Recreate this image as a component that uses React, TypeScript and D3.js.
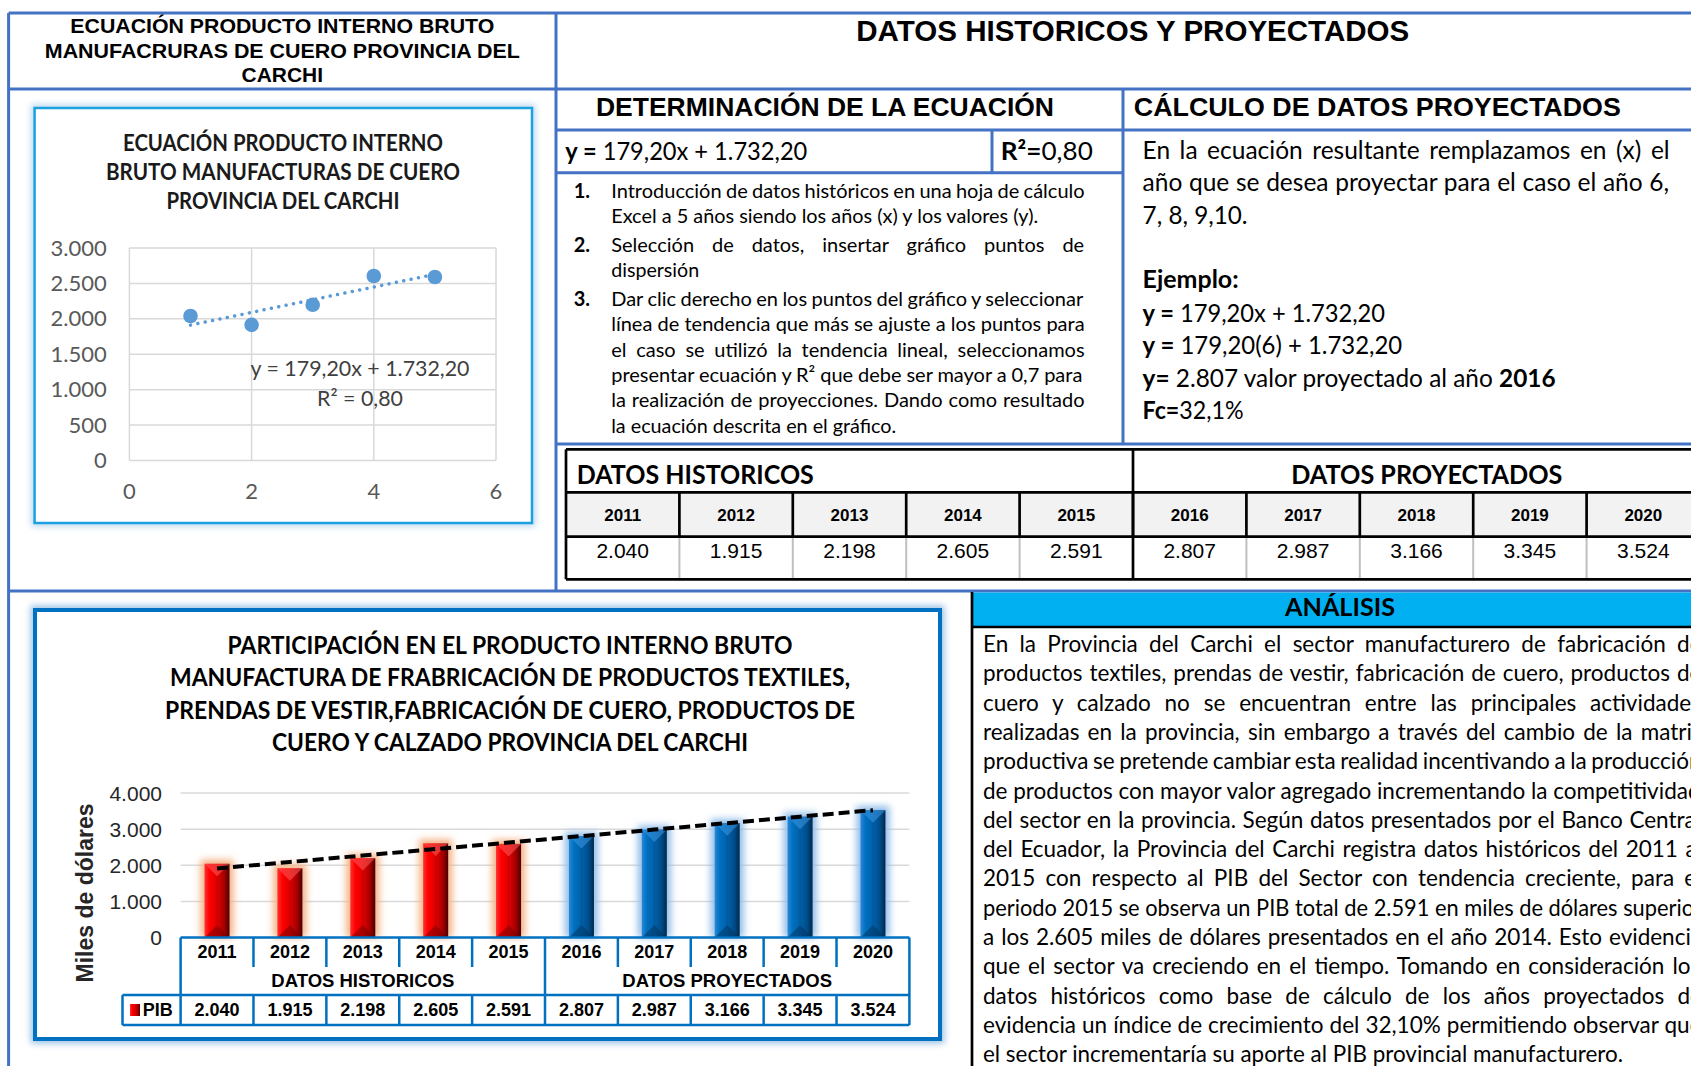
import React from "react";
import * as d3 from "d3";

// ---------------- DATA ----------------
const histYears = ["2011", "2012", "2013", "2014", "2015"];
const histValues = [2040, 1915, 2198, 2605, 2591];
const projYears = ["2016", "2017", "2018", "2019", "2020"];
const projValues = [2807, 2987, 3166, 3345, 3524];
const scatterX = [1, 2, 3, 4, 5];
const trendSlope = 179.2;
const trendIntercept = 1732.2;
const rSquared = 0.8;
const growthPct = 32.1;
const scatterYTicks = [0, 500, 1000, 1500, 2000, 2500, 3000];
const scatterXTicks = [0, 2, 4, 6];
const barYTicks = [0, 1000, 2000, 3000, 4000];
const groupLabels = ["DATOS HISTORICOS", "DATOS PROYECTADOS"];
const seriesName = "PIB";
const yAxisTitle = "Miles de dólares";

const leftTitle = ["ECUACIÓN PRODUCTO INTERNO BRUTO", "MANUFACRURAS DE CUERO PROVINCIA DEL", "CARCHI"];
const rightTitle = "DATOS HISTORICOS Y PROYECTADOS";
const eqHeading = "DETERMINACIÓN DE LA ECUACIÓN";
const calcHeading = "CÁLCULO DE DATOS PROYECTADOS";
const scatterTitle = ["ECUACIÓN PRODUCTO INTERNO", "BRUTO MANUFACTURAS DE CUERO", "PROVINCIA DEL CARCHI"];
const barTitle = [
  "PARTICIPACIÓN EN EL PRODUCTO INTERNO BRUTO",
  "MANUFACTURA DE FRABRICACIÓN DE PRODUCTOS TEXTILES,",
  "PRENDAS DE VESTIR,FABRICACIÓN DE CUERO, PRODUCTOS DE",
  "CUERO Y CALZADO PROVINCIA DEL CARCHI",
];
const stepNumbers = ["1.", "2.", "3."];
const stepLines = [
  "Introducción de datos históricos en una hoja de cálculo",
  "Excel a 5 años siendo los años (x) y los valores (y).",
  "Selección de datos, insertar gráfico puntos de",
  "dispersión",
  "Dar clic derecho en los puntos del gráfico y seleccionar",
  "línea de tendencia que más se ajuste a los puntos para",
  "el caso se utilizó la tendencia lineal, seleccionamos",
  "presentar ecuación y R² que debe ser mayor a 0,7 para",
  "la realización de proyecciones. Dando como resultado",
  "la ecuación descrita en el gráfico.",
];
const calcIntro = [
  "En la ecuación resultante remplazamos en (x) el",
  "año que se desea proyectar para el caso el año 6,",
  "7, 8, 9,10.",
];
const analysisTitle = "ANÁLISIS";
const analysisLines = [
  "En la Provincia del Carchi el sector manufacturero de fabricación de",
  "productos textiles, prendas de vestir, fabricación de cuero, productos de",
  "cuero y calzado no se encuentran entre las principales actividades",
  "realizadas en la provincia, sin embargo a través del cambio de la matriz",
  "productiva se pretende cambiar esta realidad incentivando a la producción",
  "de productos con mayor valor agregado incrementando la competitividad",
  "del sector en la provincia. Según datos presentados por el Banco Central",
  "del Ecuador, la Provincia del Carchi registra datos históricos del 2011 al",
  "2015 con respecto al PIB del Sector con tendencia creciente, para el",
  "periodo 2015 se observa un PIB total de 2.591 en miles de dólares superior",
  "a los 2.605 miles de dólares presentados en el año 2014. Esto evidencia",
  "que el sector va creciendo en el tiempo. Tomando en consideración los",
  "datos históricos como base de cálculo de los años proyectados de",
  "evidencia un índice de crecimiento del 32,10% permitiendo observar que",
  "el sector incrementaría su aporte al PIB provincial manufacturero.",
];

// ---------------- helpers ----------------
const es = d3.formatLocale({ decimal: ",", thousands: ".", grouping: [3], currency: ["", ""] });
const fmtInt = es.format(",.0f");
const fmt2 = es.format(",.2f");
const fmtR = es.format(".2f");
const fmt1 = es.format(".1f");

const CAL = "Lato, 'Open Sans', sans-serif";
const ARI = "'Liberation Sans', Arial, sans-serif";
const BLUE = "#4472C4";

let _ctx: CanvasRenderingContext2D | null = null;
function tw(s: string, size: number, family: string, weight: number) {
  if (!_ctx) _ctx = document.createElement("canvas").getContext("2d");
  if (!_ctx) return s.length * size * 0.5;
  _ctx.font = `${weight} ${size}px ${family}`;
  return _ctx.measureText(s).width;
}

type Run = { t: string; b?: boolean };

function Line(props: {
  x: number; y: number; runs: Run[]; size: number; family: string;
  W?: number; justify?: boolean; anchor?: string; fill?: string; weight?: number;
}) {
  const { x, y, runs, size, family, W, justify, anchor = "start", fill = "#000", weight = 400 } = props;
  const extra: any = {};
  if (W) {
    if (justify) {
      const natural = runs.reduce((s, r) => s + tw(r.t, size, family, r.b ? 700 : weight), 0);
      const full = runs.map((r) => r.t).join("");
      const spaces = (full.match(/ /g) || []).length;
      const ws = (W - natural) / Math.max(spaces, 1);
      if (ws >= -1.2) extra.style = { wordSpacing: `${ws}px` };
      else { extra.textLength = W; extra.lengthAdjust = "spacingAndGlyphs"; }
    } else {
      extra.textLength = W;
      extra.lengthAdjust = "spacingAndGlyphs";
    }
  }
  return (
    <text x={x} y={y} fontSize={size} fontFamily={family} textAnchor={anchor} fill={fill} fontWeight={weight} {...extra}>
      {runs.map((r, i) => (
        <tspan key={i} fontWeight={r.b ? 700 : weight}>{r.t}</tspan>
      ))}
    </text>
  );
}

function Bar({ x, y, w, h, kind }: { x: number; y: number; w: number; h: number; kind: "red" | "blue" }) {
  const b = Math.min(w * 0.5, h / 2);
  const glow = kind === "red" ? "#F4B183" : "#8FBCE8";
  return (
    <g>
      <rect x={x - 4} y={y - 4} width={w + 8} height={h + 4} fill={glow} filter="url(#barGlow)" />
      <rect x={x} y={y} width={w} height={h} fill={`url(#grad-${kind})`} />
      <polygon points={`${x},${y} ${x + w},${y} ${x + w / 2},${y + b}`} fill={kind === "red" ? "#FF5A5A" : "#3D95E0"} opacity={0.55} />
      <polygon points={`${x},${y + h} ${x + w},${y + h} ${x + w / 2},${y + h - b}`} fill={kind === "red" ? "#700000" : "#00325C"} opacity={0.5} />
      <line x1={x + w / 2} y1={y + b} x2={x + w / 2} y2={y + h - b} stroke={kind === "red" ? "#B00000" : "#004E8A"} strokeWidth={1} opacity={0.6} />
    </g>
  );
}

export default function App() {
  const allYears = [...histYears, ...projYears];
  const allValues = [...histValues, ...projValues];

  // scatter scales
  const sx = d3.scaleLinear().domain([0, 6]).range([129.4, 496]);
  const sy = d3.scaleLinear().domain([0, 3000]).range([460.5, 248]);
  const scatterTrend = d3.line<number>().x((d) => sx(d)).y((d) => sy(trendSlope * d + trendIntercept));

  // bar chart scales
  const bx = d3.scaleBand<string>().domain(allYears).range([180.6, 909.4]);
  const by = d3.scaleLinear().domain([0, 4000]).range([937.5, 793]);
  const barW = 25;
  const bcx = (yr: string) => (bx(yr) as number) + bx.step() / 2;
  const barTrend = d3.line<string>().x((d) => bcx(d)).y((d, i) => by(trendSlope * (i + 1) + trendIntercept));

  // top data table scale
  const tx = d3.scaleBand<string>().domain(allYears).range([566, 1700]);
  const tcx = (yr: string) => (tx(yr) as number) + tx.step() / 2;

  const eqText = `${fmt2(trendSlope)}x + ${fmt2(trendIntercept)}`;
  const projFirst = projValues[0];

  const stepBase = [198, 223.3, 252, 277.3, 306, 331.3, 356.6, 381.9, 407.2, 432.5];
  const stepJust = [true, false, true, false, true, true, true, true, true, false];
  const stepW = [473.4, 427, 473.4, 88, 473.4, 473.4, 473.4, 473.4, 473.4, 285];
  const stepNumIdx = [0, 2, 4];

  const tableTop = 449.3, tableHdr = 492.3, tableYr = 536.7, tableBot = 579.3;
  const catTop = 937.5, catMid = 967, grpBot = 995, dataBot = 1025, legL = 122.5;
  const boundaries = allYears.map((y) => bx(y) as number).concat([909.4]);

  return (
    <div style={{ position: "absolute", left: 0, top: 0 }}>
      <style>{"body{margin:0;overflow:hidden}"}</style>
      <svg width={1691} height={1066} style={{ display: "block", background: "#fff" }}>
        <defs>
          <linearGradient id="grad-red" x1="0" x2="1" y1="0" y2="0">
            <stop offset="0" stopColor="#FF3030" />
            <stop offset="0.2" stopColor="#FF0000" />
            <stop offset="0.55" stopColor="#D80000" />
            <stop offset="0.8" stopColor="#A00000" />
            <stop offset="1" stopColor="#4A0000" />
          </linearGradient>
          <linearGradient id="grad-blue" x1="0" x2="1" y1="0" y2="0">
            <stop offset="0" stopColor="#2A88D8" />
            <stop offset="0.2" stopColor="#0070C0" />
            <stop offset="0.55" stopColor="#005EA6" />
            <stop offset="0.8" stopColor="#004A86" />
            <stop offset="1" stopColor="#00284A" />
          </linearGradient>
          <filter id="barGlow" x="-60%" y="-20%" width="220%" height="140%">
            <feGaussianBlur stdDeviation="3.5" />
          </filter>
          <filter id="boxGlow" x="-5%" y="-5%" width="110%" height="110%">
            <feGaussianBlur stdDeviation="3" />
          </filter>
        </defs>

        {/* ---------- frame lines ---------- */}
        <g stroke={BLUE} strokeWidth={3} fill="none">
          <line x1={8.6} y1={13} x2={1691} y2={13} />
          <line x1={8.6} y1={13} x2={8.6} y2={1066} />
          <line x1={8.6} y1={89} x2={1691} y2={89} />
          <line x1={556} y1={13} x2={556} y2={591} />
          <line x1={556} y1={130} x2={1691} y2={130} />
          <line x1={1123} y1={89} x2={1123} y2={444} />
          <line x1={556} y1={172.7} x2={1123} y2={172.7} />
          <line x1={992} y1={130} x2={992} y2={172.7} />
          <line x1={556} y1={444} x2={1691} y2={444} />
          <line x1={8.6} y1={591} x2={1691} y2={591} />
        </g>

        {/* ---------- titles ---------- */}
        {leftTitle.map((t, i) => (
          <Line key={t} x={282.3} y={[32.5, 57.5, 82][i]} runs={[{ t }]} size={21} family={ARI} weight={700} anchor="middle" W={[424, 475, 81.4][i]} />
        ))}
        <Line x={1132.8} y={41} runs={[{ t: rightTitle }]} size={29} family={ARI} weight={700} anchor="middle" W={553} />
        <Line x={825} y={115.5} runs={[{ t: eqHeading }]} size={26} family={ARI} weight={700} anchor="middle" W={458} />
        <Line x={1133.8} y={115.5} runs={[{ t: calcHeading }]} size={26.5} family={ARI} weight={700} W={487} />

        {/* ---------- equation row ---------- */}
        <Line x={565.3} y={160} runs={[{ t: "y =", b: true }, { t: " " + eqText }]} size={24.5} family={CAL} W={242} />
        <Line x={1000.8} y={160} runs={[{ t: "R²=", b: true }, { t: fmtR(rSquared) }]} size={24.5} family={CAL} W={92} />

        {/* ---------- steps ---------- */}
        {stepNumIdx.map((li, k) => (
          <Line key={k} x={573.7} y={stepBase[li]} runs={[{ t: stepNumbers[k], b: true }]} size={20} family={CAL} />
        ))}
        {stepLines.map((t, i) => (
          <Line key={i} x={611.2} y={stepBase[i]} runs={[{ t }]} size={20} family={CAL} W={stepW[i]} justify={stepJust[i]} />
        ))}

        {/* ---------- calc panel ---------- */}
        <Line x={1142.6} y={159} runs={[{ t: calcIntro[0] }]} size={24.5} family={CAL} W={527} justify />
        <Line x={1142.6} y={191.3} runs={[{ t: calcIntro[1] }]} size={24.5} family={CAL} W={527} justify />
        <Line x={1142.6} y={223.6} runs={[{ t: calcIntro[2] }]} size={24.5} family={CAL} W={105} />
        <Line x={1142.6} y={288} runs={[{ t: "Ejemplo:", b: true }]} size={24.5} family={CAL} W={96} />
        <Line x={1142.6} y={321.5} runs={[{ t: "y =", b: true }, { t: " " + eqText }]} size={24.5} family={CAL} W={242.5} />
        <Line x={1142.6} y={354} runs={[{ t: "y =", b: true }, { t: ` ${fmt2(trendSlope)}(6) + ${fmt2(trendIntercept)}` }]} size={24.5} family={CAL} W={259.6} />
        <Line x={1142.6} y={386.5} runs={[{ t: "y=", b: true }, { t: ` ${fmtInt(projFirst)} valor proyectado al año ` }, { t: projYears[0], b: true }]} size={24.5} family={CAL} W={413} />
        <Line x={1142.6} y={419} runs={[{ t: "Fc=", b: true }, { t: `${fmt1(growthPct)}%` }]} size={24.5} family={CAL} W={101} />

        {/* ---------- data table ---------- */}
        <rect x={566} y={tableHdr} width={1691 - 566} height={tableYr - tableHdr} fill="#F2F2F2" />
        <Line x={576.8} y={484} runs={[{ t: groupLabels[0] }]} size={27} family={CAL} weight={700} W={237} />
        <Line x={1426.8} y={484} runs={[{ t: groupLabels[1] }]} size={27} family={CAL} weight={700} anchor="middle" W={271} />
        {allYears.map((yr, i) => (
          <g key={yr}>
            <text x={tcx(yr)} y={521} textAnchor="middle" fontFamily={ARI} fontWeight={700} fontSize={17}>{yr}</text>
            <text x={tcx(yr)} y={558} textAnchor="middle" fontFamily={ARI} fontSize={21}>{fmtInt(allValues[i])}</text>
          </g>
        ))}
        <g stroke="#BFBFBF" strokeWidth={2}>
          {allYears.slice(1).map((yr) => (
            <line key={yr} x1={tx(yr)} x2={tx(yr)} y1={tableYr} y2={tableBot} />
          ))}
        </g>
        <g stroke="#000" strokeWidth={2.7}>
          {allYears.slice(1).map((yr) => (
            <line key={yr} x1={tx(yr)} x2={tx(yr)} y1={tableHdr} y2={tableYr} />
          ))}
          <line x1={tx(projYears[0])} x2={tx(projYears[0])} y1={tableTop} y2={tableBot} />
          <line x1={566} x2={566} y1={tableTop} y2={tableBot} />
          {[tableTop, tableHdr, tableYr, tableBot].map((y) => (
            <line key={y} x1={566} x2={1700} y1={y} y2={y} />
          ))}
        </g>

        {/* ---------- scatter chart ---------- */}
        <rect x={34.6} y={108} width={532 - 34.6} height={523 - 108} fill="none" stroke="#BDD7EE" strokeWidth={7} filter="url(#boxGlow)" />
        <rect x={34.6} y={108} width={532 - 34.6} height={523 - 108} fill="#fff" stroke="#1BA1E2" strokeWidth={2.5} />
        {scatterTitle.map((t, i) => (
          <Line key={t} x={283} y={[151, 180, 209][i]} runs={[{ t }]} size={22.5} family={CAL} weight={700} anchor="middle" fill="#1a1a1a" W={[320, 354, 233][i]} />
        ))}
        <g stroke="#D9D9D9" strokeWidth={1.5}>
          {scatterYTicks.map((t) => (
            <line key={t} x1={sx(0)} x2={sx(6)} y1={sy(t)} y2={sy(t)} />
          ))}
          {scatterXTicks.map((t) => (
            <line key={t} x1={sx(t)} x2={sx(t)} y1={sy(0)} y2={sy(3000)} />
          ))}
        </g>
        {scatterYTicks.map((t) => (
          <text key={t} x={106.8} y={sy(t) + 7.5} textAnchor="end" fontFamily={CAL} fontSize={22} fill="#595959">{fmtInt(t)}</text>
        ))}
        {scatterXTicks.map((t) => (
          <text key={t} x={sx(t)} y={499} textAnchor="middle" fontFamily={CAL} fontSize={22} fill="#595959">{t}</text>
        ))}
        <path d={scatterTrend([scatterX[0], scatterX[scatterX.length - 1]]) || ""} fill="none" stroke="#5B9BD5" strokeWidth={3.5} strokeDasharray="0.01 7.5" strokeLinecap="round" />
        {scatterX.map((x, i) => (
          <circle key={x} cx={sx(x)} cy={sy(histValues[i])} r={7.3} fill="#5B9BD5" />
        ))}
        <Line x={360} y={376} runs={[{ t: "y = " + eqText }]} size={22} family={CAL} anchor="middle" fill="#404040" W={219} />
        <Line x={360} y={406} runs={[{ t: `R² = ${fmtR(rSquared)}` }]} size={22} family={CAL} anchor="middle" fill="#404040" W={86} />

        {/* ---------- bar chart ---------- */}
        <rect x={35} y={610} width={905} height={429} fill="none" stroke="#9DC3E6" strokeWidth={9} filter="url(#boxGlow)" />
        <rect x={35} y={610} width={905} height={429} fill="#fff" stroke="#0070C0" strokeWidth={4} />
        {barTitle.map((t, i) => (
          <Line key={t} x={510} y={[653.5, 686, 718.5, 751][i]} runs={[{ t }]} size={24.5} family={CAL} weight={700} anchor="middle" W={[565, 680, 690, 476][i]} />
        ))}
        <g stroke="#D9D9D9" strokeWidth={1.5}>
          {barYTicks.slice(1).map((t) => (
            <line key={t} x1={180.6} x2={909.4} y1={by(t)} y2={by(t)} />
          ))}
        </g>
        {barYTicks.map((t) => (
          <text key={t} x={162} y={by(t) + 7.5} textAnchor="end" fontFamily={ARI} fontSize={21} fill="#262626">{fmtInt(t)}</text>
        ))}
        <text transform={`translate(85,893) rotate(-90)`} textAnchor="middle" fontFamily={ARI} fontWeight={700} fontSize={23} fill="#262626" dy={8}>{yAxisTitle}</text>
        {allYears.map((yr, i) => (
          <Bar key={yr} x={(bx(yr) as number) + (bx.step() - barW) / 2} y={by(allValues[i])} w={barW} h={by(0) - by(allValues[i])} kind={i < histYears.length ? "red" : "blue"} />
        ))}
        <path d={barTrend(allYears) || ""} fill="none" stroke="#000" strokeWidth={4} strokeDasharray="11 5" />

        {/* category table */}
        {allYears.map((yr, i) => (
          <g key={yr}>
            <text x={bcx(yr)} y={958} textAnchor="middle" fontFamily={ARI} fontWeight={700} fontSize={18}>{yr}</text>
            <text x={bcx(yr)} y={1016} textAnchor="middle" fontFamily={ARI} fontWeight={700} fontSize={18}>{fmtInt(allValues[i])}</text>
          </g>
        ))}
        <text x={((bx(histYears[0]) as number) + (bx(projYears[0]) as number)) / 2} y={987} textAnchor="middle" fontFamily={ARI} fontWeight={700} fontSize={18.5}>{groupLabels[0]}</text>
        <text x={((bx(projYears[0]) as number) + 909.4) / 2} y={987} textAnchor="middle" fontFamily={ARI} fontWeight={700} fontSize={18.5}>{groupLabels[1]}</text>
        <rect x={130} y={1004} width={10} height={12} fill="url(#grad-red)" />
        <text x={142.7} y={1016} fontFamily={ARI} fontWeight={700} fontSize={18}>{seriesName}</text>
        <g stroke="#0070C0" strokeWidth={2.5}>
          <line x1={180.6} x2={909.4} y1={catTop} y2={catTop} />
          <line x1={legL} x2={909.4} y1={grpBot} y2={grpBot} />
          <line x1={legL} x2={909.4} y1={dataBot} y2={dataBot} />
          <line x1={legL} x2={legL} y1={grpBot} y2={dataBot} />
          {boundaries.map((x, i) => {
            const full = i === 0 || i === 5 || i === boundaries.length - 1;
            return (
              <g key={i}>
                <line x1={x} x2={x} y1={catTop} y2={full ? dataBot : catMid} />
                {!full && <line x1={x} x2={x} y1={grpBot} y2={dataBot} />}
              </g>
            );
          })}
        </g>

        {/* ---------- analysis ---------- */}
        <rect x={972} y={592.5} width={720} height={34.5} fill="#00B0F0" />
        <g stroke="#000" strokeWidth={2.7}>
          <line x1={972} x2={972} y1={592} y2={1066} />
          <line x1={972} x2={1691} y1={627} y2={627} />
        </g>
        <Line x={1340} y={615.5} runs={[{ t: analysisTitle }]} size={24.5} family={CAL} weight={700} anchor="middle" W={110} />
        {analysisLines.map((t, i) => (
          <Line key={i} x={983} y={652 + i * 29.3} runs={[{ t }]} size={22.5} family={CAL} W={i < analysisLines.length - 1 ? 719 : 640} justify={i < analysisLines.length - 1} />
        ))}
      </svg>
    </div>
  );
}
